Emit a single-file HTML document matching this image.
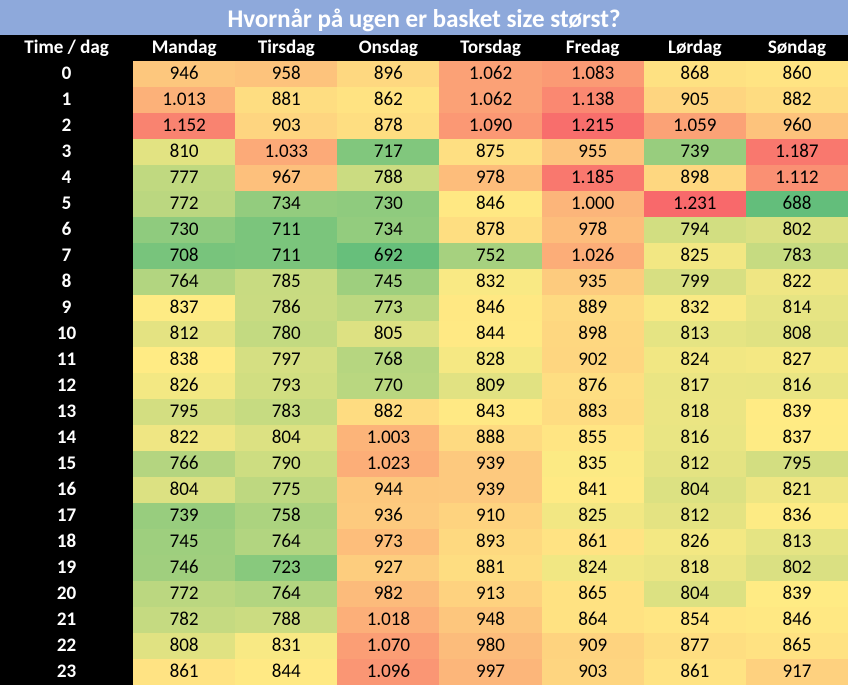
<!DOCTYPE html>
<html><head><meta charset="utf-8"><style>
body{margin:0;width:850px;height:687px;background:#fff;overflow:hidden;font-family:Calibri,"Liberation Sans",sans-serif}
#t{position:absolute;left:0;top:0;width:848px;height:35px;background:#8EA9DB;color:#fff;font-weight:bold;font-size:25px;text-align:center;line-height:37px}
table{position:absolute;left:0;top:35px;border-collapse:collapse;table-layout:fixed;width:848px}
tr{height:26px}
td{height:26px;padding:0;text-align:center;font-size:19px;color:#000;line-height:26px;overflow:hidden}
td:first-child,tr.h td{background:#000;color:#fff;font-weight:bold}
col.a{width:133px}
</style></head><body>
<div id="t">Hvornår på ugen er basket size størst?</div>
<table id="tb"><colgroup><col class="a"><col><col><col><col><col><col><col></colgroup>
<tr class="h"><td>Time / dag</td><td>Mandag</td><td>Tirsdag</td><td>Onsdag</td><td>Torsdag</td><td>Fredag</td><td>Lørdag</td><td>Søndag</td></tr>
<tr><td>0</td><td>946</td><td>958</td><td>896</td><td>1.062</td><td>1.083</td><td>868</td><td>860</td></tr>
<tr><td>1</td><td>1.013</td><td>881</td><td>862</td><td>1.062</td><td>1.138</td><td>905</td><td>882</td></tr>
<tr><td>2</td><td>1.152</td><td>903</td><td>878</td><td>1.090</td><td>1.215</td><td>1.059</td><td>960</td></tr>
<tr><td>3</td><td>810</td><td>1.033</td><td>717</td><td>875</td><td>955</td><td>739</td><td>1.187</td></tr>
<tr><td>4</td><td>777</td><td>967</td><td>788</td><td>978</td><td>1.185</td><td>898</td><td>1.112</td></tr>
<tr><td>5</td><td>772</td><td>734</td><td>730</td><td>846</td><td>1.000</td><td>1.231</td><td>688</td></tr>
<tr><td>6</td><td>730</td><td>711</td><td>734</td><td>878</td><td>978</td><td>794</td><td>802</td></tr>
<tr><td>7</td><td>708</td><td>711</td><td>692</td><td>752</td><td>1.026</td><td>825</td><td>783</td></tr>
<tr><td>8</td><td>764</td><td>785</td><td>745</td><td>832</td><td>935</td><td>799</td><td>822</td></tr>
<tr><td>9</td><td>837</td><td>786</td><td>773</td><td>846</td><td>889</td><td>832</td><td>814</td></tr>
<tr><td>10</td><td>812</td><td>780</td><td>805</td><td>844</td><td>898</td><td>813</td><td>808</td></tr>
<tr><td>11</td><td>838</td><td>797</td><td>768</td><td>828</td><td>902</td><td>824</td><td>827</td></tr>
<tr><td>12</td><td>826</td><td>793</td><td>770</td><td>809</td><td>876</td><td>817</td><td>816</td></tr>
<tr><td>13</td><td>795</td><td>783</td><td>882</td><td>843</td><td>883</td><td>818</td><td>839</td></tr>
<tr><td>14</td><td>822</td><td>804</td><td>1.003</td><td>888</td><td>855</td><td>816</td><td>837</td></tr>
<tr><td>15</td><td>766</td><td>790</td><td>1.023</td><td>939</td><td>835</td><td>812</td><td>795</td></tr>
<tr><td>16</td><td>804</td><td>775</td><td>944</td><td>939</td><td>841</td><td>804</td><td>821</td></tr>
<tr><td>17</td><td>739</td><td>758</td><td>936</td><td>910</td><td>825</td><td>812</td><td>836</td></tr>
<tr><td>18</td><td>745</td><td>764</td><td>973</td><td>893</td><td>861</td><td>826</td><td>813</td></tr>
<tr><td>19</td><td>746</td><td>723</td><td>927</td><td>881</td><td>824</td><td>818</td><td>802</td></tr>
<tr><td>20</td><td>772</td><td>764</td><td>982</td><td>913</td><td>865</td><td>804</td><td>839</td></tr>
<tr><td>21</td><td>782</td><td>788</td><td>1.018</td><td>948</td><td>864</td><td>854</td><td>846</td></tr>
<tr><td>22</td><td>808</td><td>831</td><td>1.070</td><td>980</td><td>909</td><td>877</td><td>865</td></tr>
<tr><td>23</td><td>861</td><td>844</td><td>1.096</td><td>997</td><td>903</td><td>861</td><td>917</td></tr>
</table>
<script>
var cells=[],vals=[];
document.querySelectorAll('#tb tr:not(.h)').forEach(function(r){
  Array.prototype.slice.call(r.children,1).forEach(function(c){
    var v=parseFloat(c.textContent.replace('.',''));cells.push([c,v]);vals.push(v);});});
var s=vals.slice().sort(function(a,b){return a-b});
var mn=s[0],mx=s[s.length-1],n=s.length,md=(s[n/2-1]+s[n/2])/2;
var G=[99,190,123],Y=[255,235,132],R=[248,105,107];
function mix(a,b,t){return 'rgb('+a.map(function(x,i){return Math.round(x+(b[i]-x)*t)}).join(',')+')'}
cells.forEach(function(p){var v=p[1];
  p[0].style.background=v<=md?mix(G,Y,(v-mn)/(md-mn)):mix(Y,R,(v-md)/(mx-md));});
</script>
</body></html>
